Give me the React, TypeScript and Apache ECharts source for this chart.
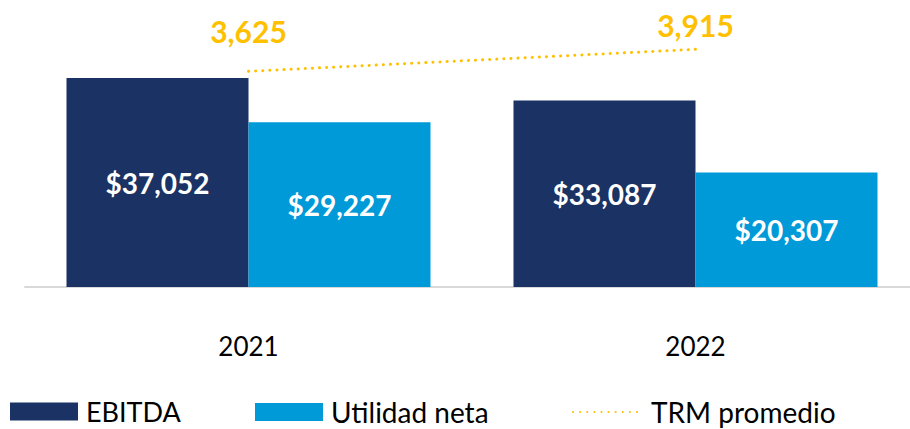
import React, { useEffect, useRef } from "react";
import * as echarts from "echarts";

const categories = ["2021", "2022"];
const ebitda = [37052, 33087];
const utilidadNeta = [29227, 20307];
const trmPromedio = [3625, 3915];

const NAVY = "#1B3264";
const BLUE = "#009AD8";
const GOLD = "#FFC000";
const FONT = "Lato, 'Open Sans', sans-serif";

const fmt = (v: number) => v.toLocaleString("en-US");

export default function App() {
  const ref = useRef<HTMLDivElement>(null);
  useEffect(() => {
    if (!ref.current) return;
    const chart = echarts.init(ref.current, undefined, { renderer: "svg" });
    const trmLabelDistance = [25, 9];
    const legendText = { fontFamily: FONT, fontSize: 27, color: "#000", lineHeight: 26 };
    chart.setOption({
      animation: false,
      backgroundColor: "#ffffff",
      grid: { left: 25, right: 11, top: 5, bottom: 142 },
      legend: [
        {
          data: ["EBITDA"],
          left: 10,
          top: 398,
          padding: 0,
          icon: "rect",
          itemWidth: 68,
          itemHeight: 18,
          textStyle: { ...legendText, padding: [0, 0, 0, 3] },
        },
        {
          data: ["Utilidad neta"],
          left: 255,
          top: 398,
          padding: 0,
          icon: "rect",
          itemWidth: 68,
          itemHeight: 18,
          textStyle: { ...legendText, fontSize: 28, padding: [0, 0, 0, 3] },
        },
        {
          data: ["TRM promedio"],
          left: 572,
          top: 398,
          padding: 0,
          itemWidth: 65,
          itemHeight: 18,
          textStyle: { ...legendText, fontSize: 28, padding: [0, 0, 0, 8] },
        },
      ],
      xAxis: {
        type: "category",
        data: categories,
        axisLine: { show: true, lineStyle: { color: "#D9D9D9", width: 2 } },
        axisTick: { show: false },
        axisLabel: { fontFamily: FONT, fontSize: 26, color: "#000", margin: 46, lineHeight: 26 },
      },
      yAxis: [
        { type: "value", min: 0, max: 50000, show: false, splitLine: { show: false } },
        { type: "value", min: 780, max: 4500, show: false, splitLine: { show: false } },
      ],
      series: [
        {
          name: "EBITDA",
          type: "bar",
          data: ebitda,
          barWidth: 182,
          barGap: "0%",
          itemStyle: { color: NAVY },
          label: {
            show: true,
            position: "inside",
            color: "#fff",
            fontFamily: FONT,
            fontWeight: "bold",
            fontSize: 28,
            formatter: (p: any) => "$" + fmt(p.value),
          },
        },
        {
          name: "Utilidad neta",
          type: "bar",
          data: utilidadNeta,
          barWidth: 182,
          barGap: "0%",
          itemStyle: { color: BLUE },
          label: {
            show: true,
            position: "inside",
            color: "#fff",
            fontFamily: FONT,
            fontWeight: "bold",
            fontSize: 28,
            formatter: (p: any) => "$" + fmt(p.value),
          },
        },
        {
          name: "TRM promedio",
          type: "line",
          yAxisIndex: 1,
          data: trmPromedio.map((v, i) => ({ value: v, label: { distance: trmLabelDistance[i] } })),
          symbol: "circle",
          symbolSize: 1,
          showSymbol: true,
          lineStyle: { color: GOLD, width: 3, type: [0.1, 7], cap: "round" },
          itemStyle: { color: "rgba(0,0,0,0)" },
          label: {
            show: true,
            position: "top",
            color: GOLD,
            fontFamily: FONT,
            fontWeight: "bold",
            fontSize: 30,
            formatter: (p: any) => fmt(p.value),
          },
        },
      ],
    });
    return () => chart.dispose();
  }, []);
  return (
    <div style={{ position: "absolute", left: 0, top: 0, width: 910, height: 429, overflow: "hidden" }}>
      <div ref={ref} style={{ width: 930, height: 429 }} />
    </div>
  );
}
